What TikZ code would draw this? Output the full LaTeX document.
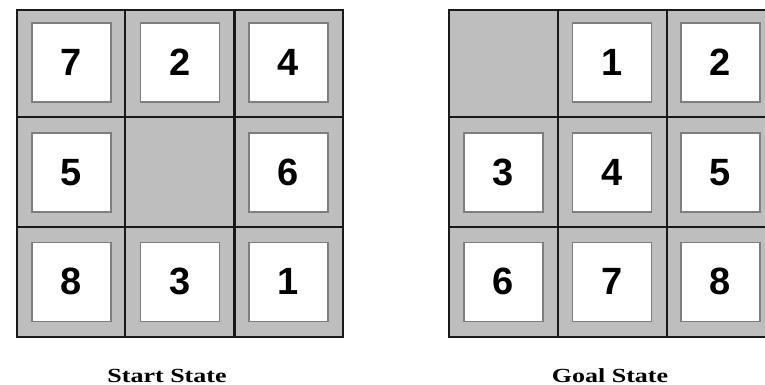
\documentclass[tikz,border=0pt]{standalone}
\usepackage{fontspec}
\setmainfont{Liberation Serif}
\newfontfamily\digitfont{Liberation Sans}
\definecolor{cellgray}{HTML}{BEBEBE}
\definecolor{tilegray}{HTML}{7E7E7E}
\begin{document}
\begin{tikzpicture}[x=1pt,y=-1pt,
  tile/.style={draw=tilegray, line width=1.6pt, fill=white, minimum size=79pt, inner sep=0pt,
    font=\digitfont\bfseries\fontsize{38}{38}\selectfont},
  gridline/.style={line width=2.8pt, draw=black!90},
  caption/.style={font=\bfseries\fontsize{20}{20}\selectfont, anchor=base, inner sep=0pt}]
\useasboundingbox (0,0) rectangle (765,385);
\clip (0,0) rectangle (765,385);
% start state
\fill[cellgray] (17,10) rectangle (343,337);
\foreach \c/\r/\t in {0/0/7,1/0/2,2/0/4,0/1/5,2/1/6,0/2/8,1/2/3,2/2/1}
  \node[tile] (L\c\r) at ({71.5+108.5*\c},{62.5+109.7*\r}) {\t};
\draw[gridline] (17,10) rectangle (343,337);
\draw[gridline] (125,10) -- (125,337) (234.5,10) -- (234.5,337)
  (17,117) -- (343,117) (17,227) -- (343,227);
% goal state
\fill[cellgray] (449,10) rectangle (776,337);
\foreach \c/\r/\t in {1/0/1,2/0/2,0/1/3,1/1/4,2/1/5,0/2/6,1/2/7,2/2/8}
  \node[tile] (G\c\r) at ({503.5+108.5*\c},{62.5+109.7*\r}) {\t};
\draw[gridline] (449,10) rectangle (776,337);
\draw[gridline] (558,10) -- (558,337) (667,10) -- (667,337)
  (449,117) -- (776,117) (449,227) -- (776,227);
% captions
\node[caption] (startlbl) at (167,382) {\scalebox{1.3}[1]{Start State}};
\node[caption] (goallbl) at (610,382) {\scalebox{1.3}[1]{Goal State}};
\end{tikzpicture}
\end{document}
